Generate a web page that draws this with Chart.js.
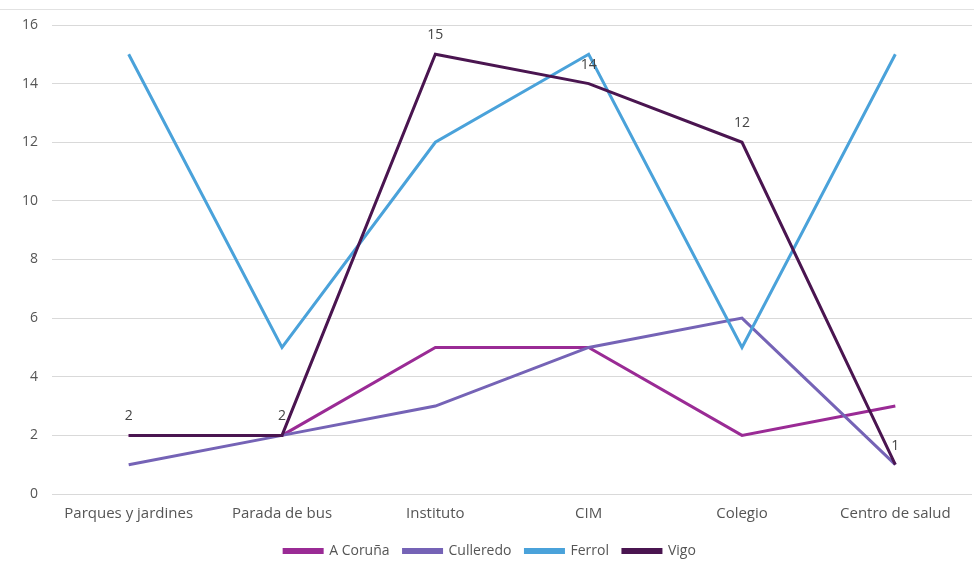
<!DOCTYPE html>
<html><head><meta charset="utf-8">
<script src="https://cdn.jsdelivr.net/npm/chart.js@4/dist/chart.umd.min.js"></script>
<style>html,body{margin:0;padding:0;background:#fff}#w{width:974px;height:561px}</style>
</head><body><div id="w"><canvas id="c"></canvas></div>
<script>
const categories = ["Parques y jardines","Parada de bus","Instituto","CIM","Colegio","Centro de salud"];
const aCoruna = [2, 2, 5, 5, 2, 3];
const culleredo = [1, 2, 3, 5, 6, 1];
const ferrol = [15, 5, 12, 15, 5, 15];
const vigo = [2, 2, 15, 14, 12, 1];
const yTicks = [0, 2, 4, 6, 8, 10, 12, 14, 16];

const FONT = "'Open Sans', sans-serif";
const labelPlugin = {
  id: 'vlabels',
  afterLayout(chart) {
    if (chart.legend) { chart.legend.top += 7; chart.legend.bottom += 7; }
  },
  beforeDraw(chart) {
    const ctx = chart.ctx;
    ctx.save();
    ctx.strokeStyle = '#e2e2e2';
    ctx.lineWidth = 1;
    ctx.beginPath(); ctx.moveTo(0, 9.5); ctx.lineTo(chart.width, 9.5); ctx.stroke();
    ctx.restore();
  },
  afterDatasetsDraw(chart) {
    const ctx = chart.ctx;
    const meta = chart.getDatasetMeta(3);
    ctx.save();
    ctx.font = "14px " + FONT;
    ctx.fillStyle = '#444';
    ctx.textAlign = 'center';
    ctx.textBaseline = 'bottom';
    meta.data.forEach((p, i) => {
      ctx.fillText(String(vigo[i]), p.x, p.y - 12);
    });
    ctx.restore();
  }
};
function ds(label, data, color, order) {
  return {label, data, borderColor: color, backgroundColor: color, borderWidth: 3,
    pointRadius: 0, pointHoverRadius: 0, tension: 0, fill: false, order};
}
new Chart(document.getElementById('c'), {
  type: 'line',
  data: {
    labels: categories,
    datasets: [
      ds('A Coruña', aCoruna, '#9a2b95', 4),
      ds('Culleredo', culleredo, '#7563b6', 3),
      ds('Ferrol', ferrol, '#4aa2da', 2),
      ds('Vigo', vigo, '#4a1550', 1)
    ]
  },
  options: {
    responsive: true, maintainAspectRatio: false, animation: false,
    layout: {padding: {top: 25, right: 2, left: 8, bottom: 0}},
    plugins: {
      tooltip: {enabled: false},
      legend: {position: 'bottom', labels: {boxWidth: 38, boxHeight: 3, padding: 14,
        color: '#555', font: {family: FONT, size: 14},
        sort: (a, b) => a.datasetIndex - b.datasetIndex}}
    },
    scales: {
      x: {offset: true, grid: {display: false}, border: {display: false},
        afterFit: s => { s.height -= 3; },
        ticks: {color: '#555', font: {family: FONT, size: 15}, padding: 3}},
      y: {min: 0, max: 16, afterBuildTicks: a => { a.ticks = yTicks.map(v => ({value: v})); },
        grid: {color: '#d9d9d9', lineWidth: 1, drawTicks: false}, border: {display: false},
        ticks: {color: '#555', font: {family: FONT, size: 14}, padding: 14}}
    }
  },
  plugins: [labelPlugin]
});
</script></body></html>
